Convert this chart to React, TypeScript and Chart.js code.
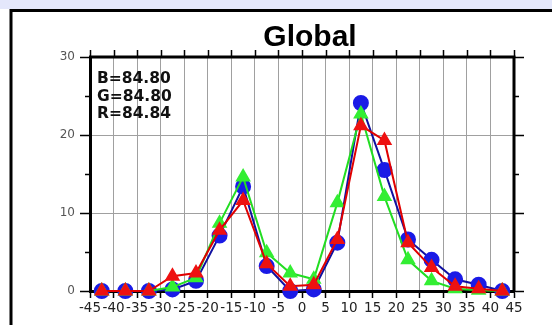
import React, { useEffect, useRef } from "react";
import { Chart, registerables } from "chart.js";

Chart.register(...registerables);

const binCenters = [-42.5, -37.5, -32.5, -27.5, -22.5, -17.5, -12.5, -7.5, -2.5, 2.5, 7.5, 12.5, 17.5, 22.5, 27.5, 32.5, 37.5, 42.5];
const blueValues = [0, 0, 0, 0.2, 1.3, 7.1, 13.4, 3.2, 0, 0.2, 6.2, 24.1, 15.5, 6.6, 4.0, 1.5, 0.8, 0];
const redValues = [0, 0, 0, 1.9, 2.3, 7.8, 11.6, 3.5, 0.6, 0.8, 6.6, 21.2, 19.3, 6.2, 3.0, 0.6, 0.3, 0];
const greenValues = [0, 0, 0, 0.5, 1.7, 8.7, 14.6, 4.9, 2.3, 1.5, 11.3, 22.7, 12.1, 4.0, 1.3, 0.3, 0.1, 0];
const xTickValues = [-45, -40, -35, -30, -25, -20, -15, -10, -5, 0, 5, 10, 15, 20, 25, 30, 35, 40, 45];
const yTickValues = [0, 10, 20, 30];
const yMinorTickValues = [5, 15, 25];
const titleText = "Global";
const statLines = ["B=84.80", "G=84.80", "R=84.84"];

const toPoints = (vals: number[]) => vals.map((v, i) => ({ x: binCenters[i], y: v }));

export default function App() {
  const ref = useRef<HTMLCanvasElement>(null);
  useEffect(() => {
    document.body.style.margin = "0";
    const canvas = ref.current!;

    const decor = {
      id: "decor",
      beforeDraw(chart: any) {
        const ctx = chart.ctx;
        ctx.save();
        ctx.fillStyle = "#ffffff";
        ctx.fillRect(0, 0, chart.width, chart.height);
        ctx.fillStyle = "#e4e7fb";
        ctx.fillRect(0, 0, chart.width, 9);
        ctx.strokeStyle = "#000";
        ctx.lineWidth = 3;
        ctx.beginPath();
        ctx.moveTo(9.5, 10.5);
        ctx.lineTo(chart.width, 10.5);
        ctx.moveTo(11, 9);
        ctx.lineTo(11, chart.height);
        ctx.stroke();
        ctx.restore();
      },
      beforeDatasetsDraw(chart: any) {
        const ctx = chart.ctx;
        const a = chart.chartArea;
        const xs = chart.scales.x;
        const ys = chart.scales.y;
        ctx.save();
        ctx.strokeStyle = "#000";
        ctx.lineWidth = 1.5;
        ctx.beginPath();
        xTickValues.forEach((v) => {
          const px = Math.round(xs.getPixelForValue(v)) + 0.5;
          ctx.moveTo(px, a.top);
          ctx.lineTo(px, a.top - 7);
        });
        yTickValues.forEach((v) => {
          const py = Math.round(ys.getPixelForValue(v)) + 0.5;
          ctx.moveTo(a.right, py);
          ctx.lineTo(a.right + 10, py);
        });
        yMinorTickValues.forEach((v) => {
          const py = Math.round(ys.getPixelForValue(v)) + 0.5;
          ctx.moveTo(a.left, py);
          ctx.lineTo(a.left - 5, py);
          ctx.moveTo(a.right, py);
          ctx.lineTo(a.right + 5, py);
        });
        ctx.stroke();
        ctx.lineWidth = 3;
        ctx.beginPath();
        ctx.moveTo(a.left - 1, a.top);
        ctx.lineTo(a.right, a.top);
        ctx.lineTo(a.right, a.bottom + 1);
        ctx.stroke();
        ctx.restore();
      },
      afterDraw(chart: any) {
        const ctx = chart.ctx;
        ctx.save();
        ctx.fillStyle = "#000";
        ctx.textAlign = "center";
        ctx.textBaseline = "alphabetic";
        ctx.font = 'bold 30px "Liberation Sans", Arial, sans-serif';
        ctx.fillText(titleText, 310, 46);
        ctx.textAlign = "left";
        ctx.fillStyle = "#111";
        ctx.font = 'bold 15.5px "DejaVu Sans", sans-serif';
        const baselines = [83, 100.5, 118];
        statLines.forEach((s, i) => ctx.fillText(s, 97, baselines[i]));
        ctx.restore();
      },
    };

    const chart = new Chart(canvas, {
      type: "line",
      data: {
        datasets: [
          {
            label: "R",
            data: toPoints(redValues),
            borderColor: "#e00000",
            backgroundColor: "#ee1111",
            borderWidth: 2,
            pointStyle: "triangle",
            pointRadius: 7,
            pointBackgroundColor: "#ee1111",
            pointBorderColor: "#ee1111",
            tension: 0,
            clip: false,
          },
          {
            label: "G",
            data: toPoints(greenValues),
            borderColor: "#22dd22",
            backgroundColor: "#33ee33",
            borderWidth: 2,
            pointStyle: "triangle",
            pointRadius: 7,
            pointBackgroundColor: "#33ee33",
            pointBorderColor: "#33ee33",
            tension: 0,
            clip: false,
          },
          {
            label: "B",
            data: toPoints(blueValues),
            borderColor: "#1010a0",
            backgroundColor: "#1a1ae6",
            borderWidth: 2,
            pointStyle: "circle",
            pointRadius: 7,
            pointBackgroundColor: "#1a1ae6",
            pointBorderColor: "#1a1ae6",
            tension: 0,
            clip: false,
          },
        ] as any,
      },
      options: {
        animation: false,
        responsive: false,
        maintainAspectRatio: false,
        devicePixelRatio: 1,
        layout: { padding: { left: 0, right: 38, top: 57, bottom: 0 } },
        plugins: {
          legend: { display: false },
          tooltip: { enabled: false },
          title: { display: false },
        },
        scales: {
          x: {
            type: "linear",
            min: -45,
            max: 45,
            afterBuildTicks: (s: any) => {
              s.ticks = xTickValues.map((v) => ({ value: v }));
            },
            afterFit: (s: any) => {
              s.height = 34;
            },
            ticks: {
              autoSkip: false,
              maxRotation: 0,
              minRotation: 0,
              padding: 2,
              color: "#222",
              font: { family: '"DejaVu Sans", sans-serif', size: 13.5 },
            },
            grid: { color: "#a0a0a0", lineWidth: 1, tickColor: "#000", tickLength: 7, tickWidth: 1.5 },
            border: { display: true, color: "#000", width: 3 },
          },
          y: {
            type: "linear",
            min: 0,
            max: 30,
            afterBuildTicks: (s: any) => {
              s.ticks = yTickValues.map((v) => ({ value: v }));
            },
            afterFit: (s: any) => {
              s.width = 90;
            },
            ticks: {
              padding: 5,
              color: "#555",
              font: { family: '"DejaVu Sans", sans-serif', size: 12 },
            },
            grid: { color: "#a0a0a0", lineWidth: 1, tickColor: "#000", tickLength: 10, tickWidth: 1.5 },
            border: { display: true, color: "#000", width: 3 },
          },
        },
      } as any,
      plugins: [decor],
    });
    return () => chart.destroy();
  }, []);
  return <canvas ref={ref} width={552} height={325} style={{ display: "block" }} />;
}
